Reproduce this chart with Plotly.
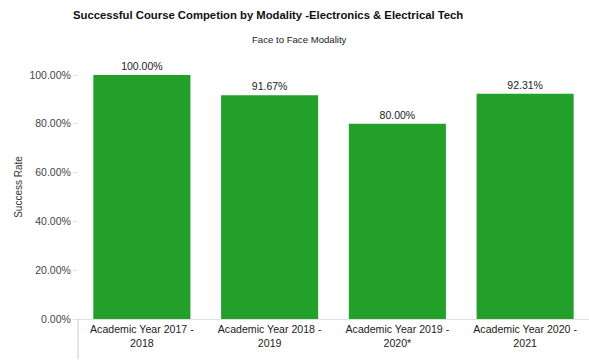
import plotly.graph_objects as go

categories = ["Academic Year 2017 -<br>2018", "Academic Year 2018 -<br>2019",
              "Academic Year 2019 -<br>2020*", "Academic Year 2020 -<br>2021"]
success_rate = [1.0, 0.9167, 0.80, 0.9231]
tick_vals = [0, 0.2, 0.4, 0.6, 0.8, 1.0]

PLOT_LEFT, PLOT_TOP, PLOT_W, PLOT_H = 78, 55, 511, 264

fig = go.Figure(go.Bar(
    x=categories,
    y=success_rate,
    marker=dict(color="#22a02a", line=dict(width=0)),
    text=[f"{v:.2%}" for v in success_rate],
    textposition="outside",
    textfont=dict(family="Liberation Sans, Arial", size=10.5, color="#222222"),
    cliponaxis=False,
))

fig.update_layout(
    width=589, height=362,
    margin=dict(l=PLOT_LEFT, r=0, t=PLOT_TOP, b=43),
    paper_bgcolor="white", plot_bgcolor="white",
    bargap=0.24,
    showlegend=False,
    font=dict(family="Liberation Sans, Arial", size=10, color="#333333"),
)

# title and subtitle positioned in pixel terms relative to the plot area
fig.add_annotation(text="<b>Successful Course Competion by Modality -Electronics & Electrical Tech</b>",
                   xref="paper", yref="paper",
                   x=(268 - PLOT_LEFT) / PLOT_W, y=1 + (PLOT_TOP - 15) / PLOT_H,
                   showarrow=False, font=dict(size=11.3, color="#111111"),
                   xanchor="center", yanchor="middle")
fig.add_annotation(text="Face to Face Modality",
                   xref="paper", yref="paper",
                   x=(299 - PLOT_LEFT) / PLOT_W, y=1 + (PLOT_TOP - 40) / PLOT_H,
                   showarrow=False, font=dict(size=9.6, color="#222222"),
                   xanchor="center", yanchor="middle")

fig.update_yaxes(
    range=[0, 1.082],
    tickvals=tick_vals,
    tickformat=".2%",
    showgrid=False,
    zeroline=False,
    ticks="outside", ticklen=4, tickcolor="#dddddd",
    tickfont=dict(size=10.5, color="#444444"),
    title=dict(text="Success Rate", font=dict(size=10, color="#333333"), standoff=4),
)
fig.update_xaxes(
    showgrid=False,
    showline=True, linecolor="#e0e0e0", linewidth=1,
    tickfont=dict(size=10.6, color="#222222"),
)
# divider below the axis at the left edge
fig.add_shape(type="line", xref="paper", yref="paper", x0=0, x1=0, y0=0, y1=-40 / PLOT_H,
              line=dict(color="#cccccc", width=1))

fig.write_html("out.html")
